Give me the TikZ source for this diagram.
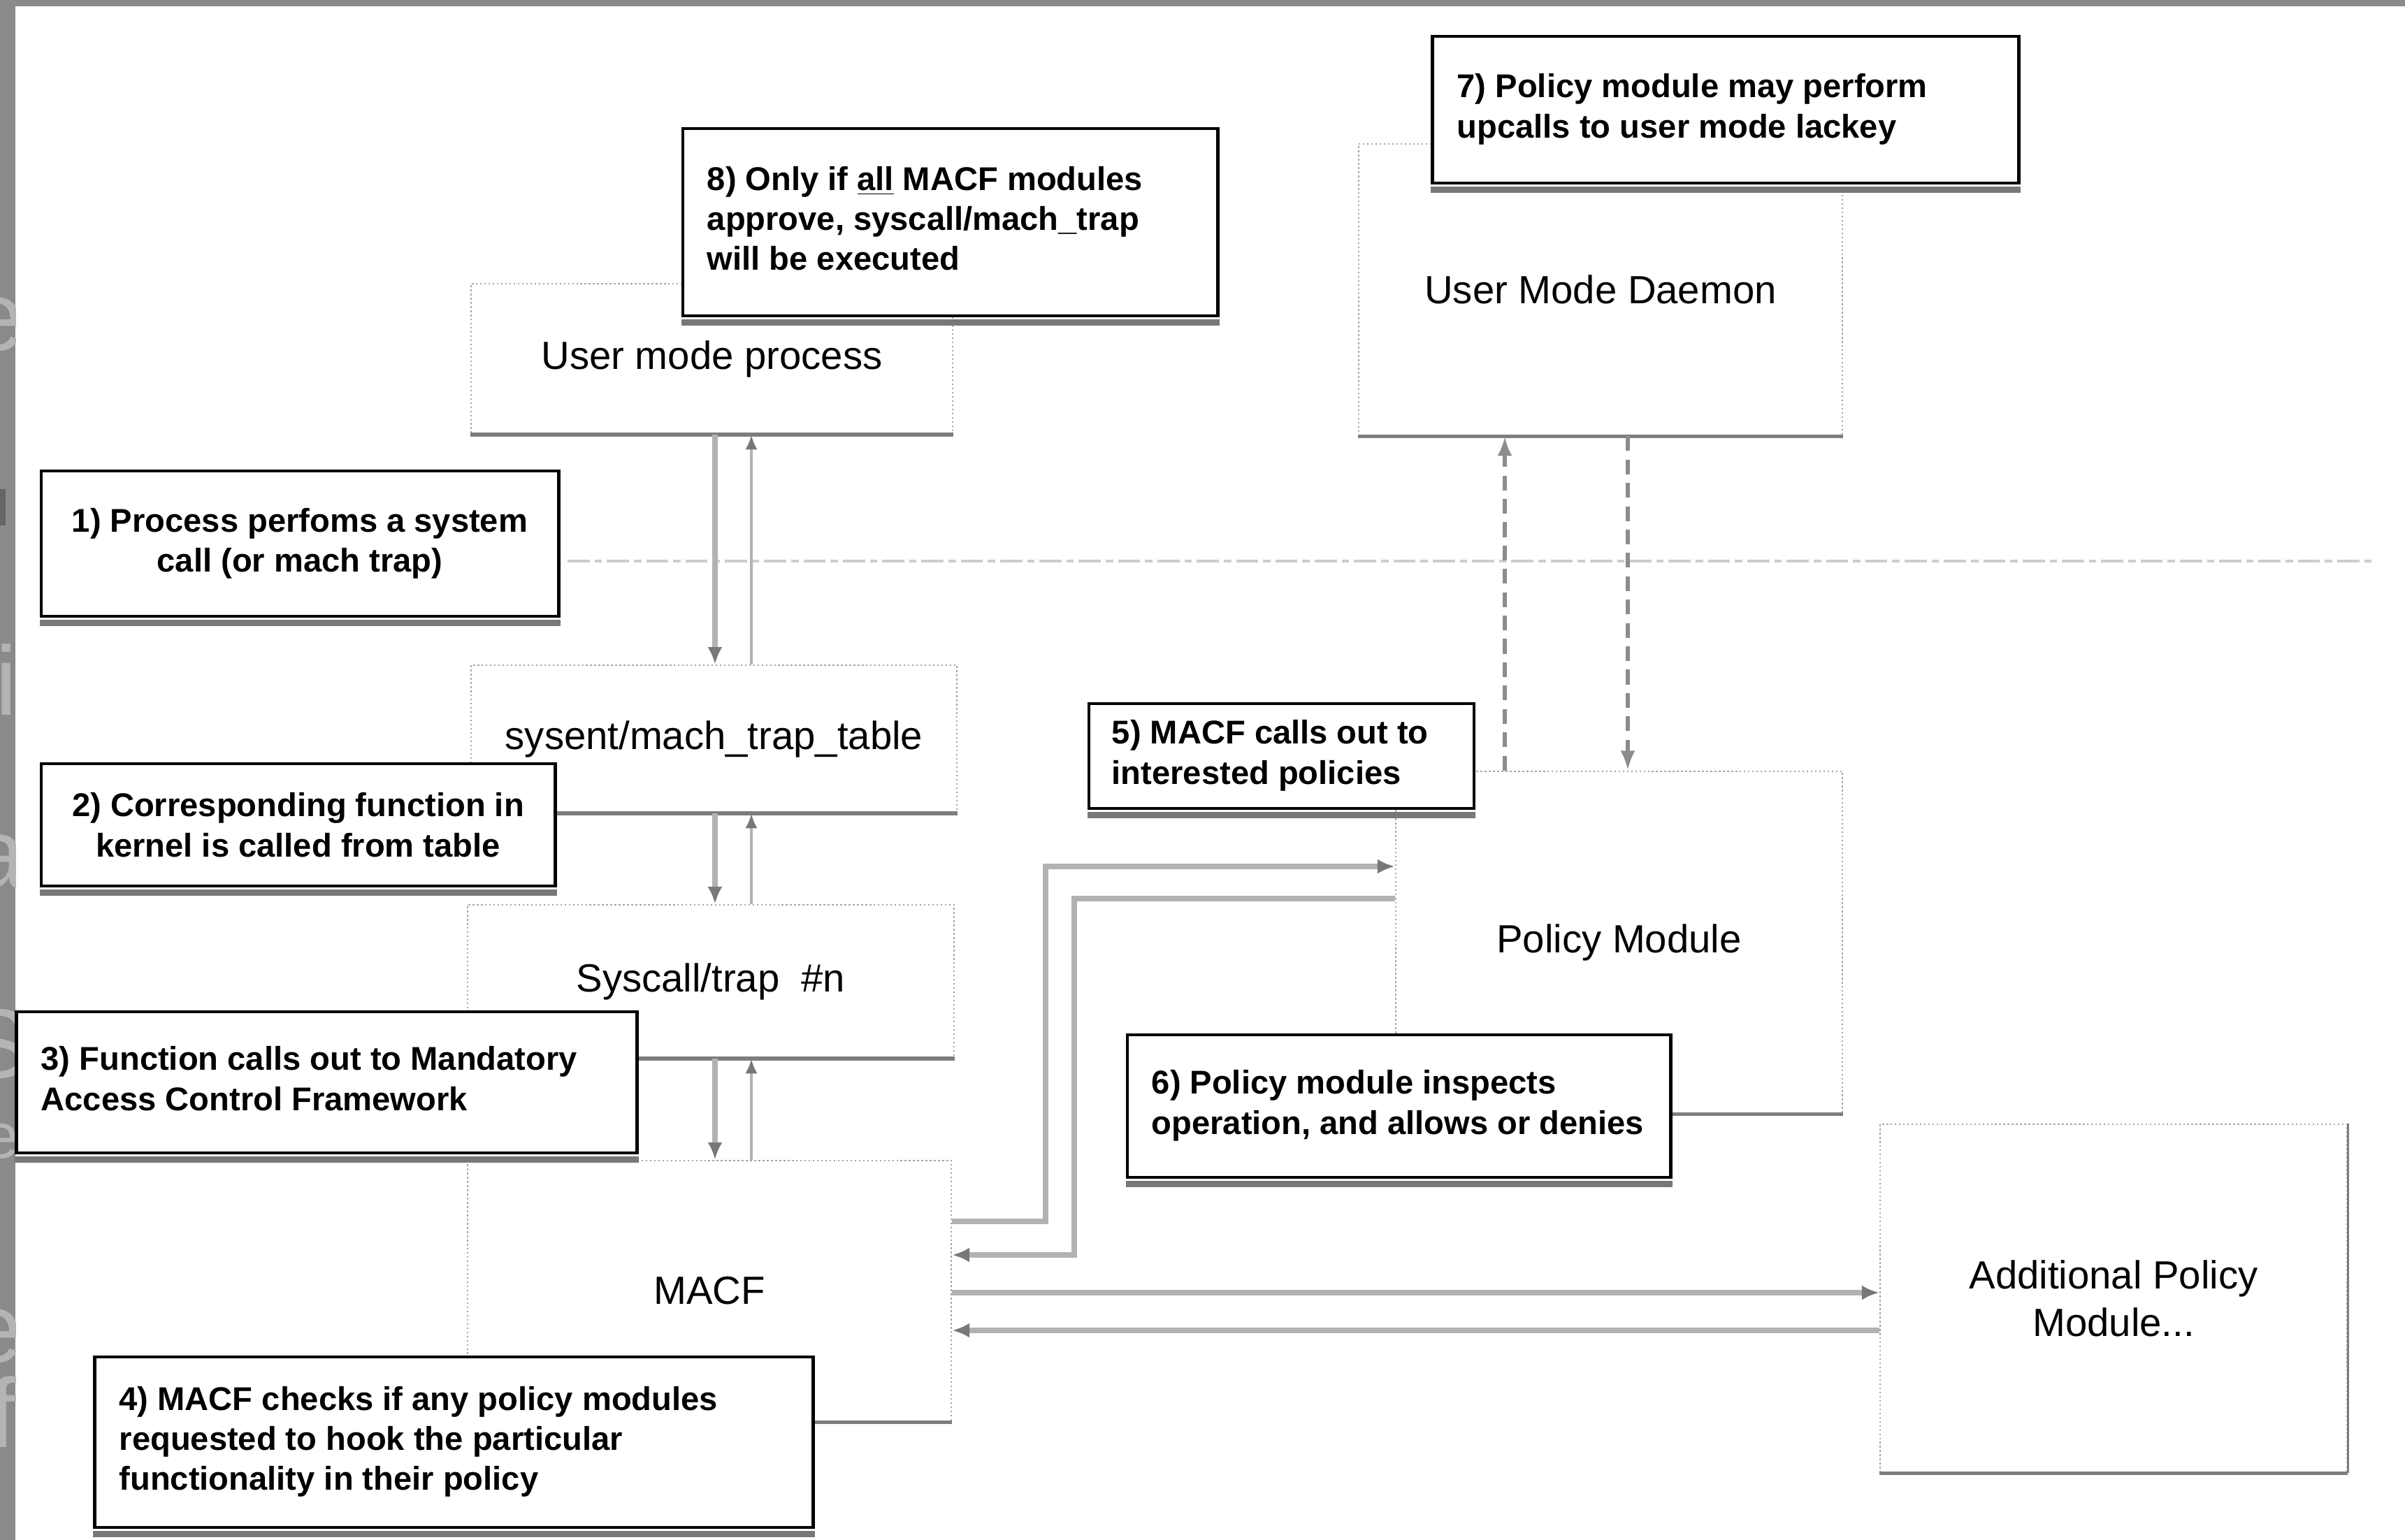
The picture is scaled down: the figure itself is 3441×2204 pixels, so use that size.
\documentclass[tikz,border=0pt]{standalone}
\usepackage{fontspec}
\setmainfont{Liberation Sans}
\usetikzlibrary{arrows.meta}

\definecolor{band}{RGB}{138,138,138}
\definecolor{bandtext}{RGB}{180,180,180}
\definecolor{edgegray}{RGB}{165,165,165}
\definecolor{floorgray}{RGB}{125,125,125}
\definecolor{shadegray}{RGB}{120,120,120}
\definecolor{flowgray}{RGB}{178,178,178}
\definecolor{tipgray}{RGB}{120,120,120}
\definecolor{dashgray}{RGB}{140,140,140}
\definecolor{faintgray}{RGB}{205,205,205}

\newcommand\callfont{\bfseries\fontsize{13.4}{16.3}\selectfont}
\newcommand\boxfont{\fontsize{16}{19.4}\selectfont}
\newcommand\leftlines[2]{\makebox[#1][l]{\begin{tabular}{@{}l@{}}#2\end{tabular}}}

\tikzset{
  lightbox/.style={draw=edgegray, densely dotted, line width=0.7pt, fill=white,
    inner sep=0pt, font=\boxfont, align=center},
  boxfloor/.style={draw=floorgray, line width=1.6pt},
  callout/.style={draw=black, line width=1.3pt, fill=white, inner sep=0pt,
    font=\callfont, align=center},
  calloutshade/.style={draw=shadegray, line width=2.6pt},
  callflow/.style={draw=flowgray, line width=2pt,
    -{Latex[length=7pt,width=6pt,color=tipgray]}},
  retflow/.style={draw=flowgray, line width=1.2pt,
    -{Latex[length=6pt,width=5pt,color=tipgray]}},
  upcall/.style={draw=dashgray, line width=1.7pt, dash pattern=on 6pt off 3.5pt,
    -{Latex[length=8pt,width=6pt]}},
  boundary/.style={draw=faintgray, line width=1.1pt, dash pattern=on 9pt off 2pt on 3pt off 2pt},
  bandletter/.style={inner sep=0pt, text=bandtext, font=\fontsize{40}{40}\selectfont}
}

\begin{document}
\begin{tikzpicture}[x=0.01cm, y=-0.01cm]
\useasboundingbox (0,0) rectangle (3441,2204);
\fill[white] (0,0) rectangle (3441,2204);

% grey surround at the top and left edges, with clipped lettering behind the page
\fill[band] (0,0) rectangle (3441,9);
\fill[band] (0,0) rectangle (22,2204);
\begin{scope}
  \clip (0,9) rectangle (22,2204);
  \node[bandletter] (g1) at (-4,464) {e};
  \fill[black!60] (0,700) rectangle (8,752);
  \node[bandletter] (g2) at (-6,973) {li};
  \node[bandletter] (g3) at (-2,1233) {a};
  \node[bandletter] (g4) at (-4,1494) {S};
  \node[bandletter, font=\fontsize{26}{26}\selectfont] (g5) at (2,1633) {e};
  \node[bandletter] (g6) at (-6,1912) {e};
  \node[bandletter] (g7) at (4,2021) {f};
\end{scope}

% component boxes
\node[lightbox, minimum width=6.89cm, minimum height=2.15cm] (ump)    at (1018.5,513.5)  {User mode process};
\node[lightbox, minimum width=6.92cm, minimum height=4.17cm] (dmn)    at (2290,414.5)    {User Mode Daemon};
\node[lightbox, minimum width=6.95cm, minimum height=2.11cm] (sysent) at (1021.5,1057.5) {sysent/mach\_trap\_table};
\node[lightbox, minimum width=6.96cm, minimum height=2.19cm] (sc)     at (1017,1404.5)   {Syscall/trap\ \ \#n};
\node[lightbox, minimum width=6.92cm, minimum height=3.73cm] (macf)   at (1015,1847.5)   {MACF};
\node[lightbox, minimum width=6.39cm, minimum height=4.89cm] (pm)     at (2316.5,1348.5) {Policy Module};
\node[lightbox, minimum width=6.68cm, minimum height=4.98cm] (add)    at (3024,1858)     {Additional Policy\\Module...};

\foreach \b in {ump,dmn,sysent,sc,macf,pm,add}
  \draw[boxfloor] (\b.south west) -- (\b.south east);
\draw[boxfloor, line width=1.1pt] (add.north east) -- (add.south east);

% user/kernel boundary
\coordinate (bl) at (812,803);
\coordinate (br) at (3400,803);
\draw[boundary] (bl) -- (br);

% call path down the stack and the returns back up
\coordinate (colL) at (1023,0);
\coordinate (colR) at (1075,0);
\draw[callflow] (ump.south -| colL)    -- (sysent.north -| colL);
\draw[retflow]  (sysent.north -| colR) -- (ump.south -| colR);
\draw[callflow] (sysent.south -| colL) -- (sc.north -| colL);
\draw[retflow]  (sc.north -| colR)     -- (sysent.south -| colR);
\draw[callflow] (sc.south -| colL)     -- (macf.north -| colL);
\draw[retflow]  (macf.north -| colR)   -- (sc.south -| colR);

% MACF to the policy modules and back
\coordinate (ko) at (1496,1748);
\coordinate (po) at (1496,1240);
\coordinate (ki) at (1537,1796);
\coordinate (pi) at (1537,1286);
\draw[callflow] (macf.east |- ko) -- (ko) -- (po) -- (pm.west |- po);
\draw[callflow] (pm.west |- pi) -- (pi) -- (ki) -- (macf.east |- ki);
\coordinate (a1) at (0,1850);
\coordinate (a2) at (0,1904);
\draw[callflow] (macf.east |- a1) -- (add.west |- a1);
\draw[callflow] (add.west |- a2) -- (macf.east |- a2);

% upcalls between the policy module and the daemon
\coordinate (dl) at (2153,0);
\coordinate (dr) at (2329,0);
\draw[upcall] (pm.north -| dl) -- (dmn.south -| dl);
\draw[upcall] (dmn.south -| dr) -- (pm.north -| dr);

% numbered callouts
\node[callout, minimum width=7.40cm, minimum height=2.08cm] (c1) at (429,778)
  {1) Process perfoms a system\\call (or mach trap)};
\node[callout, minimum width=7.35cm, minimum height=1.75cm] (c2) at (426.5,1180.5)
  {2) Corresponding function in\\kernel is called from table};
\node[callout, minimum width=8.87cm, minimum height=2.02cm] (c3) at (467.5,1549)
  {\leftlines{8.17cm}{3) Function calls out to Mandatory\\Access Control Framework}};
\node[callout, minimum width=10.27cm, minimum height=2.44cm] (c4) at (649.5,2064)
  {\leftlines{9.57cm}{4) MACF checks if any policy modules\\requested to hook the particular\\functionality in their policy}};
\node[callout, minimum width=5.51cm, minimum height=1.50cm] (c5) at (1833.5,1082)
  {\leftlines{4.85cm}{5) MACF calls out to\\interested policies}};
\node[callout, minimum width=7.77cm, minimum height=2.04cm] (c6) at (2001.5,1583)
  {\leftlines{7.07cm}{6) Policy module inspects\\operation, and allows or denies}};
\node[callout, minimum width=8.38cm, minimum height=2.10cm] (c7) at (2469,157)
  {\leftlines{7.68cm}{7) Policy module may perform\\upcalls to user mode lackey}};
\node[callout, minimum width=7.65cm, minimum height=2.68cm] (c8) at (1359.5,318)
  {\leftlines{6.95cm}{8) Only if \underline{all} MACF modules\\approve, syscall/mach\_trap\\will be executed}};

\foreach \c in {c1,c2,c3,c4,c5,c6,c7,c8}
  \draw[calloutshade] ([yshift=-2pt]\c.south west) -- ([yshift=-2pt]\c.south east);
\end{tikzpicture}
\end{document}
